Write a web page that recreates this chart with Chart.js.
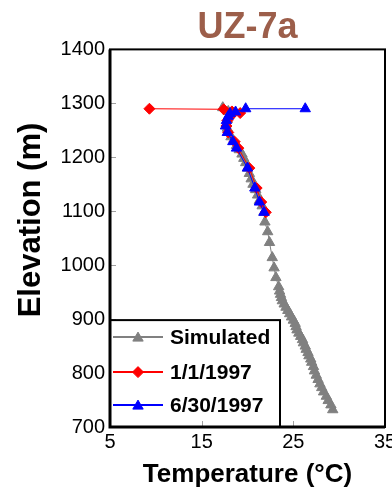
<!DOCTYPE html>
<html><head><meta charset="utf-8">
<script src="https://cdn.jsdelivr.net/npm/chart.js"></script>
<style>html,body{margin:0;padding:0;background:#fff;}canvas{display:block;}</style>
</head><body>
<canvas id="c" width="392" height="491"></canvas>
<script>
const FONT = '"Liberation Sans", Arial, sans-serif';
const seriesNames = ['Simulated', '1/1/1997', '6/30/1997'];
const xTicks = [5, 15, 25, 35];
const yTicks = [700, 800, 900, 1000, 1100, 1200, 1300, 1400];
const yTitle = 'Elevation (m)';

const simElev = [1292,1285,1278,1270,1262,1254,1246,1238,1230,1222,1214,1206,1198,1190,1180,1170,1160,1150,1140,1130,1120,1110,1098,1080,1062,1042,1014,995,977,960,952,946,940,934,928,922,916,910,904,898,892,886,880,874,868,862,856,850,844,838,832,826,820,812,804,796,788,780,773,765,757,749,741,732];
const simTemp = [17.3,17.9,18.0,17.8,17.7,17.8,17.9,18.2,18.5,18.8,19.1,19.4,19.6,19.8,20.0,20.2,20.4,20.6,20.9,21.1,21.3,21.6,21.8,21.9,22.2,22.4,22.7,22.9,23.1,23.4,23.5,23.6,23.7,23.8,24.0,24.2,24.4,24.6,24.8,25.0,25.2,25.3,25.4,25.6,25.8,26.0,26.1,26.3,26.4,26.6,26.7,26.9,27.0,27.2,27.3,27.5,27.7,27.9,28.1,28.3,28.6,28.8,29.1,29.3];

const janElev = [1290,1289,1285,1282,1277,1268,1258,1246,1229,1217,1180,1143,1117,1098];
const janTemp = [9.3,17.4,18.3,19.2,18.2,17.8,17.7,17.9,18.6,19.0,20.2,21.0,21.5,22.0];

const junElev = [1290,1290,1284,1281,1276,1268,1258,1246,1229,1217,1180,1143,1117,1098];
const junTemp = [26.3,19.8,18.7,18.1,17.9,17.7,17.6,17.8,18.4,18.8,20.0,20.8,21.3,21.8];

const pts = (t, e) => t.map((v, i) => ({x: v, y: e[i]}));

function drawMarker(ctx, style, x, y, r, color) {
  ctx.save();
  ctx.fillStyle = color; ctx.strokeStyle = color; ctx.lineWidth = 1;
  ctx.beginPath();
  if (style === 'triangle') {
    let a = 0;
    ctx.moveTo(x + Math.sin(a) * r, y - Math.cos(a) * r);
    a += 2 * Math.PI / 3; ctx.lineTo(x + Math.sin(a) * r, y - Math.cos(a) * r);
    a += 2 * Math.PI / 3; ctx.lineTo(x + Math.sin(a) * r, y - Math.cos(a) * r);
  } else {
    ctx.moveTo(x, y - r); ctx.lineTo(x + r, y); ctx.lineTo(x, y + r); ctx.lineTo(x - r, y);
  }
  ctx.closePath(); ctx.fill(); ctx.stroke();
  ctx.restore();
}

const overlay = {
  id: 'overlay',
  afterDatasetsDraw(chart) {
    const ctx = chart.ctx, a = chart.chartArea;
    const xs = chart.scales.x, ys = chart.scales.y;
    ctx.save();
    // y axis title
    ctx.save();
    ctx.translate(31, 220);
    ctx.rotate(-Math.PI / 2);
    ctx.fillStyle = '#000';
    ctx.font = 'bold 31px ' + FONT;
    ctx.textAlign = 'center'; ctx.textBaseline = 'middle';
    ctx.fillText(yTitle, 0, 0);
    ctx.restore();
    // inner y ticks
    ctx.strokeStyle = '#a0a0a0'; ctx.lineWidth = 1;
    yTicks.slice(1, -1).forEach(v => {
      const py = Math.round(ys.getPixelForValue(v)) + 0.5;
      ctx.beginPath(); ctx.moveTo(a.left, py); ctx.lineTo(a.left + 6, py); ctx.stroke();
    });
    // legend box
    const lt = ys.getPixelForValue(900) + 1, lr = a.left + 170;
    ctx.fillStyle = '#fff';
    ctx.fillRect(a.left, lt, lr - a.left, a.bottom - lt);
    ctx.strokeStyle = '#000'; ctx.lineWidth = 2;
    ctx.strokeRect(a.left, lt, lr - a.left, a.bottom - lt);
    const rows = [lt + 17, lt + 52, lt + 85];
    chart.data.datasets.forEach((ds, i) => {
      const yy = rows[i];
      ctx.strokeStyle = ds.borderColor; ctx.lineWidth = 2;
      ctx.beginPath(); ctx.moveTo(a.left + 3, yy); ctx.lineTo(a.left + 53, yy); ctx.stroke();
      drawMarker(ctx, ds.pointStyle, a.left + 28, yy + (ds.pointStyle === 'triangle' ? 1 : 0), ds.pointRadius, ds.backgroundColor);
      ctx.fillStyle = '#000';
      ctx.font = 'bold 21px ' + FONT;
      ctx.textBaseline = 'middle'; ctx.textAlign = 'left';
      ctx.fillText(ds.label, a.left + 60, yy + 1);
    });
    // inner x ticks
    ctx.strokeStyle = '#a0a0a0'; ctx.lineWidth = 1;
    xTicks.slice(1, -1).forEach(v => {
      const px = Math.round(xs.getPixelForValue(v)) + 0.5;
      ctx.beginPath(); ctx.moveTo(px, a.bottom); ctx.lineTo(px, a.bottom - 6); ctx.stroke();
    });
    // frame
    ctx.strokeStyle = '#000'; ctx.lineWidth = 2;
    ctx.strokeRect(a.left, a.top, a.right - a.left, a.bottom - a.top);
    ctx.lineWidth = 3;
    ctx.beginPath(); ctx.moveTo(a.left, a.top); ctx.lineTo(a.left, a.bottom); ctx.lineTo(a.right, a.bottom); ctx.stroke();
    ctx.restore();
  }
};

new Chart(document.getElementById('c'), {
  type: 'scatter',
  data: {
    datasets: [
      {label: seriesNames[0], data: pts(simTemp, simElev), showLine: true, borderColor: '#808080', backgroundColor: '#808080',
       pointStyle: 'triangle', pointRadius: 6, pointBorderWidth: 1, borderWidth: 1, order: 3},
      {label: seriesNames[1], data: pts(janTemp, janElev), showLine: true, borderColor: '#ff0000', backgroundColor: '#ff0000',
       pointStyle: 'rectRot', pointRadius: 5.5, pointBorderWidth: 1, borderWidth: 1, order: 2},
      {label: seriesNames[2], data: pts(junTemp, junElev), showLine: true, borderColor: '#0000ff', backgroundColor: '#0000ff',
       pointStyle: 'triangle', pointRadius: 6, pointBorderWidth: 1, borderWidth: 1, order: 1}
    ]
  },
  options: {
    responsive: false, animation: false,
    layout: {padding: {top: 0, right: 6, bottom: 0, left: 0}},
    plugins: {
      legend: {display: false}, tooltip: {enabled: false},
      title: {display: true, text: 'UZ-7a', color: '#9C5E4A', fullSize: false,
        font: {family: FONT, size: 36, weight: 'bold', lineHeight: 1.15}, padding: {top: 7, bottom: 1}}
    },
    scales: {
      x: {
        type: 'linear', min: 5, max: 35,
        afterBuildTicks: s => { s.ticks = xTicks.map(v => ({value: v})); },
        grid: {display: false, drawTicks: false}, border: {display: false},
        ticks: {font: {family: FONT, size: 20}, color: '#000', padding: 3, maxRotation: 0, autoSkip: false, callback: v => String(v)},
        title: {display: true, text: 'Temperature (°C)', color: '#000', font: {family: FONT, size: 26, weight: 'bold', lineHeight: 1.2}, padding: {top: 0, bottom: 1}},
        afterFit: s => { s.height = 64; s.paddingLeft = 0; s.paddingRight = 0; }
      },
      y: {
        type: 'linear', min: 700, max: 1400,
        afterBuildTicks: s => { s.ticks = yTicks.map(v => ({value: v})); },
        grid: {display: false, drawTicks: false}, border: {display: false},
        ticks: {font: {family: FONT, size: 20}, color: '#000', padding: 5, autoSkip: false, callback: v => String(v)},
        title: {display: false},
        afterFit: s => { s.width = 110; s.paddingTop = 0; s.paddingBottom = 0; }
      }
    }
  },
  plugins: [overlay]
});
</script>
</body></html>
